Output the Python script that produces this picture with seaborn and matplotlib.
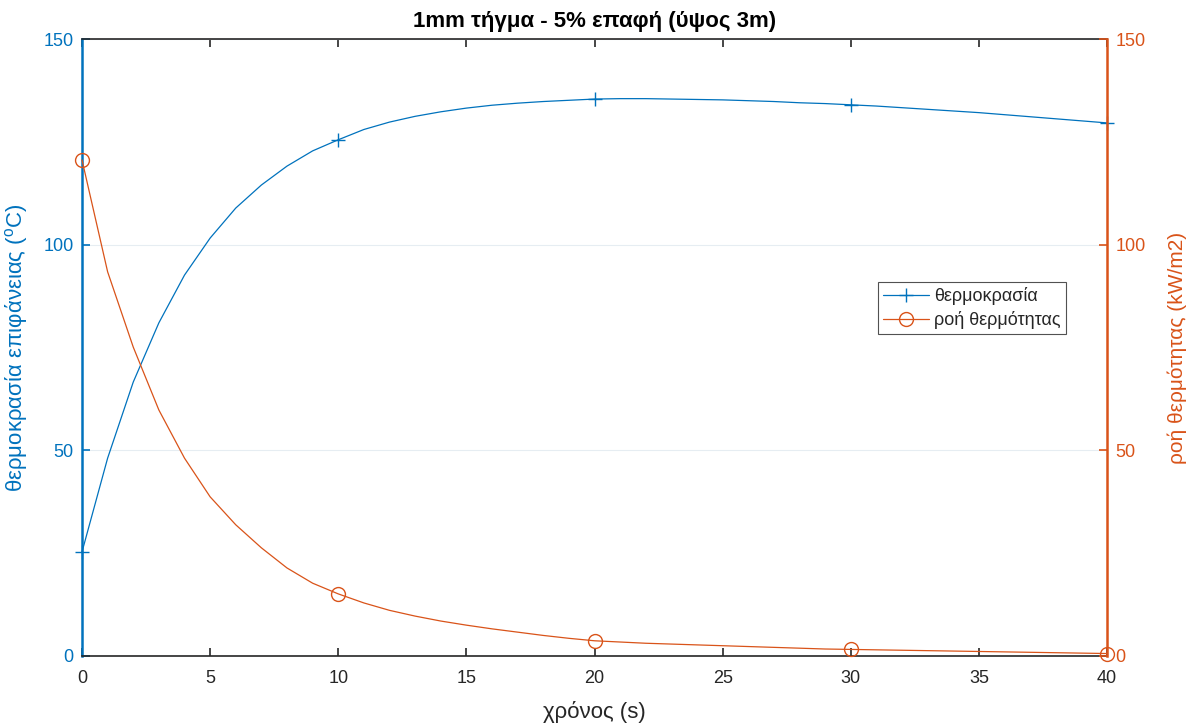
import numpy as np
import pandas as pd
import matplotlib
matplotlib.use("Agg")
import matplotlib.pyplot as plt
import seaborn as sns

# Time axis (s)
time_s = list(range(0, 41))

# Surface temperature (°C)
temperature = [25.3, 48.1, 66.6, 81.0, 92.6, 101.6, 108.9, 114.5, 119.1, 122.8,
               125.5, 128.0, 129.8, 131.2, 132.3, 133.2, 133.9, 134.4, 134.8, 135.1,
               135.4, 135.5, 135.5, 135.4, 135.3, 135.2, 135.0, 134.8, 134.5, 134.3,
               134.0, 133.7, 133.3, 132.9, 132.5, 132.1, 131.6, 131.1, 130.6, 130.1,
               129.6]

# Heat flux (kW/m2)
heat_flux = [120.6, 93.4, 75.1, 59.8, 48.1, 38.7, 31.9, 26.3, 21.4, 17.7,
             15.1, 12.9, 11.1, 9.7, 8.5, 7.5, 6.6, 5.8, 5.0, 4.3,
             3.7, 3.4, 3.1, 2.9, 2.7, 2.5, 2.3, 2.1, 1.9, 1.7,
             1.6, 1.5, 1.4, 1.3, 1.2, 1.1, 1.0, 0.9, 0.8, 0.7,
             0.6]

x_ticks = [0, 5, 10, 15, 20, 25, 30, 35, 40]
y_ticks = [0, 50, 100, 150]

BLUE = "#0072BD"
ORANGE = "#D95319"
DARK = "#262626"

sns.set_theme(style="white")
plt.rcParams["font.family"] = ["Liberation Sans", "DejaVu Sans"]
plt.rcParams["mathtext.fontset"] = "custom"
plt.rcParams["mathtext.rm"] = "Liberation Sans"

df = pd.DataFrame({"t": time_s, "temp": temperature, "flux": heat_flux})

fig = plt.figure(figsize=(11.92, 7.24), dpi=100)
ax = fig.add_axes([82 / 1192, 1 - 656 / 724, (1107 - 82) / 1192, (656 - 39) / 724])
ax2 = ax.twinx()

sns.lineplot(data=df, x="t", y="temp", ax=ax, color=BLUE, linewidth=0.9,
             marker="+", markersize=10, markeredgewidth=1.0,
             markeredgecolor=BLUE, markevery=10, clip_on=False,
             label="θερμοκρασία", legend=False)
sns.lineplot(data=df, x="t", y="flux", ax=ax2, color=ORANGE, linewidth=0.9,
             marker="o", markersize=10, markerfacecolor="none",
             markeredgecolor=ORANGE, markeredgewidth=1.0, markevery=10,
             clip_on=False, label="ροή θερμότητας", legend=False)

for a in (ax, ax2):
    a.set_xlim(0, 40)
    a.set_ylim(0, 150)
    a.set_yticks(y_ticks)

ax.set_xticks(x_ticks)
ax.yaxis.grid(True, color="#e6edf2", linewidth=0.8)
ax.xaxis.grid(False)
ax.set_axisbelow(True)

# Spines and ticks
for s in ("top", "bottom"):
    ax.spines[s].set_color(DARK)
    ax.spines[s].set_linewidth(1.2)
ax.spines["left"].set_color(BLUE)
ax.spines["left"].set_linewidth(1.8)
ax2.spines["right"].set_color(ORANGE)
ax2.spines["right"].set_linewidth(1.8)
for s in ("top", "bottom", "left"):
    ax2.spines[s].set_visible(False)
ax.spines["right"].set_visible(False)

ax.tick_params(axis="x", direction="in", length=6, width=1.2, colors=DARK,
               labelsize=13, pad=10, top=True, bottom=True)
ax.tick_params(axis="y", direction="in", length=6, width=1.2, colors=BLUE,
               labelsize=13, pad=6, left=True)
ax2.tick_params(axis="y", direction="in", length=6, width=1.2, colors=ORANGE,
                labelsize=13, pad=6, right=True)

ax.set_xlabel("χρόνος (s)", fontsize=16, color=DARK, labelpad=10)
ax.set_ylabel(r"θερμοκρασία επιφάνειας ($^{\mathrm{o}}$C)", fontsize=16,
              color=BLUE, labelpad=10)
ax2.set_ylabel("ροή θερμότητας (kW/m2)", fontsize=15, color=ORANGE,
               labelpad=16, rotation=90)
ax.set_title("1mm τήγμα - 5% επαφή (ύψος 3m)", fontsize=16,
             fontweight="bold", color="black", pad=9)

h1, l1 = ax.get_legend_handles_labels()
h2, l2 = ax2.get_legend_handles_labels()
leg = ax2.legend(h1 + h2, l1 + l2, loc="upper left",
                 bbox_to_anchor=((878 - 82) / 1025, 1 - (282 - 39) / 617),
                 fontsize=13, frameon=True, fancybox=False, borderpad=0.3,
                 handlelength=2.5, handletextpad=0.3, labelspacing=0.3,
                 borderaxespad=0)
leg.get_frame().set_edgecolor(DARK)
leg.get_frame().set_linewidth(0.8)

fig.savefig("out.png", dpi=100)
